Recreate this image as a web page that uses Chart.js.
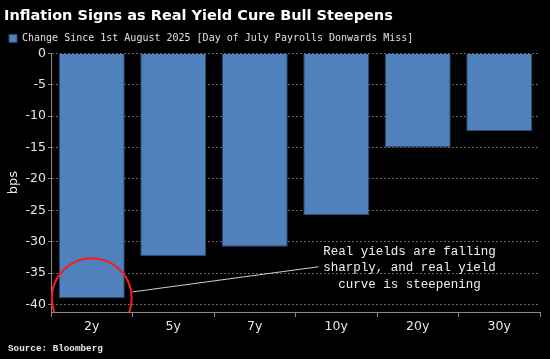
<!DOCTYPE html>
<html>
<head>
<meta charset="utf-8">
<script src="https://cdn.jsdelivr.net/npm/chart.js@4/dist/chart.umd.min.js"></script>
<style>
  html, body { margin: 0; padding: 0; background: #000; }
  #wrap { width: 550px; height: 359px; position: relative; }
</style>
</head>
<body>
<div id="wrap"><canvas id="chart"></canvas></div>
<script>
const tenors = ["2y", "5y", "7y", "10y", "20y", "30y"];
const changeBps = [-39.0, -32.3, -30.8, -25.8, -15.0, -12.4];
const yTicks = [0, -5, -10, -15, -20, -25, -30, -35, -40];
const noteLines = ["Real yields are falling", "sharply, and real yield", "curve is steepening"];

// red circle, pointer line and note, placed in data space
const noteCircle = { index: 0, value: -39 };
const notePointer = { from: [0.5, -38], to: [2.78, -34] };
const noteText = { index: 3.9, values: [-31.6, -34.2, -36.8] };

const annotate = {
  id: "annotate",
  afterDatasetsDraw(chart) {
    const { ctx, chartArea, scales } = chart;
    const x = scales.x, y = scales.y;
    const step = x.getPixelForValue(1) - x.getPixelForValue(0);

    ctx.save();
    ctx.beginPath();
    ctx.rect(chartArea.left, chartArea.top, chartArea.right - chartArea.left, chartArea.bottom - chartArea.top);
    ctx.clip();
    ctx.strokeStyle = "#ff1a1a";
    ctx.lineWidth = 2;
    ctx.beginPath();
    ctx.arc(x.getPixelForValue(noteCircle.index), y.getPixelForValue(noteCircle.value), step * 0.49, 0, Math.PI * 2);
    ctx.stroke();
    ctx.restore();

    ctx.save();
    ctx.strokeStyle = "#d0d0d0";
    ctx.lineWidth = 1;
    ctx.beginPath();
    ctx.moveTo(x.getPixelForValue(notePointer.from[0]), y.getPixelForValue(notePointer.from[1]));
    ctx.lineTo(x.getPixelForValue(notePointer.to[0]), y.getPixelForValue(notePointer.to[1]));
    ctx.stroke();

    ctx.fillStyle = "#f0f0f0";
    ctx.font = "12.5px 'Liberation Mono', monospace";
    ctx.textAlign = "center";
    ctx.textBaseline = "middle";
    noteLines.forEach((t, i) => {
      ctx.fillText(t, x.getPixelForValue(noteText.index), y.getPixelForValue(noteText.values[i]));
    });

    ctx.textAlign = "left";
    ctx.fillStyle = "#e8e8e8";
    ctx.font = "bold 9.3px 'Liberation Mono', monospace";
    ctx.fillText("Source: Bloomberg", 8, 349);
    ctx.restore();
  }
};

const ctx = document.getElementById("chart");
new Chart(ctx, {
  type: "bar",
  data: {
    labels: tenors,
    datasets: [{
      label: "Change Since 1st August 2025 [Day of July Payrolls Donwards Miss]",
      data: changeBps,
      backgroundColor: "#4f81bd",
      borderColor: "#2b4a72",
      borderWidth: 1,
      categoryPercentage: 0.81,
      barPercentage: 1.0
    }]
  },
  options: {
    responsive: true,
    maintainAspectRatio: false,
    animation: false,
    layout: { padding: { top: 4, right: 10, left: 4, bottom: 23 } },
    plugins: {
      title: {
        display: true,
        text: "Inflation Signs as Real Yield Cure Bull Steepens",
        align: "start",
        color: "#ffffff",
        font: { family: "'DejaVu Sans'", size: 14.5, weight: "bold" },
        padding: { top: 4, bottom: 3 }
      },
      legend: {
        display: true,
        align: "start",
        labels: {
          color: "#e0e0e0",
          boxWidth: 8,
          boxHeight: 8,
          padding: 5,
          font: { family: "'DejaVu Sans Mono'", size: 10 }
        }
      },
      tooltip: { enabled: false }
    },
    scales: {
      x: {
        grid: {
          display: true,
          drawOnChartArea: false,
          drawTicks: true,
          tickLength: 5,
          offset: true,
          color: "#888"
        },
        border: { color: "#888", width: 1 },
        ticks: {
          color: "#e6e6e6",
          font: { family: "'DejaVu Sans'", size: 12.5 },
          padding: 2
        }
      },
      y: {
        min: -41.2,
        max: 0,
        afterBuildTicks(scale) {
          scale.ticks = yTicks.map(v => ({ value: v }));
        },
        grid: {
          color: "#666",
          drawTicks: true,
          tickLength: 3,
          tickBorderDash: [],
          tickColor: "#888"
        },
        border: { color: "#888", width: 1, dash: [2, 2] },
        ticks: {
          color: "#e6e6e6",
          font: { family: "'DejaVu Sans'", size: 12.5 },
          padding: 2
        },
        title: {
          display: true,
          text: "bps",
          color: "#e6e6e6",
          font: { family: "'DejaVu Sans'", size: 13 },
          padding: 2
        }
      }
    }
  },
  plugins: [annotate]
});
</script>
</body>
</html>
